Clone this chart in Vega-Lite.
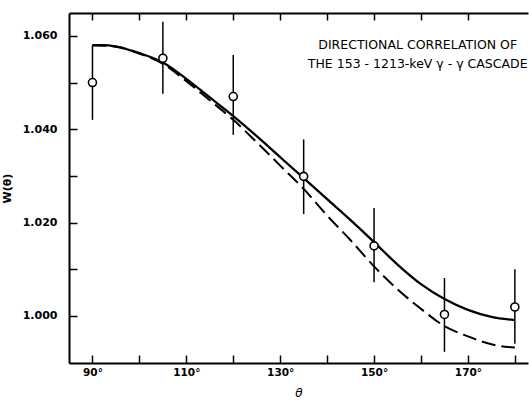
{
  "$schema": "https://vega.github.io/schema/vega-lite/v6.json",
  "width": 459,
  "height": 350,
  "autosize": {"type": "none"},
  "padding": {"left": 69, "top": 13, "right": 1, "bottom": 38},
  "background": "white",
  "config": {
    "view": {"stroke": null},
    "font": "DejaVu Sans",
    "axis": {"domainColor": "black", "tickColor": "black", "labelColor": "black", "titleColor": "black", "grid": false}
  },
  "datasets": {
    "curves": [
      {"theta": 90, "w": 1.0580, "fit": "solid"},
      {"theta": 92.5, "w": 1.0580, "fit": "solid"},
      {"theta": 95, "w": 1.0577, "fit": "solid"},
      {"theta": 100, "w": 1.0563, "fit": "solid"},
      {"theta": 105, "w": 1.0543, "fit": "solid"},
      {"theta": 110, "w": 1.0508, "fit": "solid"},
      {"theta": 115, "w": 1.0468, "fit": "solid"},
      {"theta": 120, "w": 1.0428, "fit": "solid"},
      {"theta": 125, "w": 1.0385, "fit": "solid"},
      {"theta": 130, "w": 1.0340, "fit": "solid"},
      {"theta": 135, "w": 1.0295, "fit": "solid"},
      {"theta": 140, "w": 1.0250, "fit": "solid"},
      {"theta": 145, "w": 1.0205, "fit": "solid"},
      {"theta": 150, "w": 1.0158, "fit": "solid"},
      {"theta": 155, "w": 1.0110, "fit": "solid"},
      {"theta": 160, "w": 1.0068, "fit": "solid"},
      {"theta": 165, "w": 1.0036, "fit": "solid"},
      {"theta": 170, "w": 1.0013, "fit": "solid"},
      {"theta": 175, "w": 0.9998, "fit": "solid"},
      {"theta": 180, "w": 0.9991, "fit": "solid"},
      {"theta": 90, "w": 1.0580, "fit": "dashed"},
      {"theta": 95, "w": 1.0577, "fit": "dashed"},
      {"theta": 100, "w": 1.0562, "fit": "dashed"},
      {"theta": 105, "w": 1.0540, "fit": "dashed"},
      {"theta": 110, "w": 1.0503, "fit": "dashed"},
      {"theta": 115, "w": 1.0462, "fit": "dashed"},
      {"theta": 120, "w": 1.0420, "fit": "dashed"},
      {"theta": 125, "w": 1.0372, "fit": "dashed"},
      {"theta": 130, "w": 1.0322, "fit": "dashed"},
      {"theta": 135, "w": 1.0272, "fit": "dashed"},
      {"theta": 140, "w": 1.0215, "fit": "dashed"},
      {"theta": 145, "w": 1.0162, "fit": "dashed"},
      {"theta": 150, "w": 1.0106, "fit": "dashed"},
      {"theta": 155, "w": 1.0057, "fit": "dashed"},
      {"theta": 160, "w": 1.0015, "fit": "dashed"},
      {"theta": 165, "w": 0.9978, "fit": "dashed"},
      {"theta": 170, "w": 0.9956, "fit": "dashed"},
      {"theta": 175, "w": 0.9939, "fit": "dashed"},
      {"theta": 180, "w": 0.9932, "fit": "dashed"}
    ],
    "points": [
      {"theta": 90, "w": 1.0500, "lo": 1.0420, "hi": 1.0580},
      {"theta": 105, "w": 1.0552, "lo": 1.0476, "hi": 1.0630},
      {"theta": 120, "w": 1.0470, "lo": 1.0388, "hi": 1.0559},
      {"theta": 135, "w": 1.0299, "lo": 1.0218, "hi": 1.0378},
      {"theta": 150, "w": 1.0150, "lo": 1.0072, "hi": 1.0231},
      {"theta": 165, "w": 1.0003, "lo": 0.9923, "hi": 1.0081},
      {"theta": 180, "w": 1.0019, "lo": 0.9940, "hi": 1.0100}
    ],
    "labels": [
      {"text": "DIRECTIONAL CORRELATION OF", "theta": 159.3, "w": 1.0581},
      {"text": "THE 153 - 1213-keV γ - γ CASCADE", "theta": 159.3, "w": 1.0540}
    ]
  },
  "resolve": {"axis": {"x": "independent", "y": "independent"}},
  "layer": [
    {
      "data": {"name": "curves"},
      "transform": [{"filter": "datum.fit == 'solid'"}],
      "mark": {"type": "line", "color": "black", "strokeWidth": 2.3, "strokeJoin": "round", "interpolate": "monotone"},
      "encoding": {
        "x": {"field": "theta", "type": "quantitative",
          "scale": {"domain": [85, 182.8], "nice": false, "zero": false},
          "axis": {"orient": "bottom", "title": "θ", "titleFontStyle": "italic", "titleFontWeight": "normal", "titleFontSize": 12, "titlePadding": 10,
            "values": [90, 100, 110, 120, 130, 140, 150, 160, 170, 180],
            "labelExpr": "datum.value % 20 == 10 ? datum.value + '°' : ''",
            "labelFont": "DejaVu Sans", "labelFontWeight": "bold", "labelFontSize": 10.5, "labelPadding": 12,
            "tickSize": -8, "tickWidth": 1.5, "domainWidth": 2}},
        "y": {"field": "w", "type": "quantitative",
          "scale": {"domain": [0.9899, 1.0649], "nice": false, "zero": false},
          "axis": {"orient": "left", "title": "W(θ)", "titleFontWeight": "bold", "titleFontSize": 11, "titlePadding": 10,
            "values": [1.0, 1.01, 1.02, 1.03, 1.04, 1.05, 1.06],
            "labelExpr": "round(datum.value * 1000) % 20 == 0 ? format(datum.value, '.3f') : ''",
            "labelFontWeight": "bold", "labelFontSize": 11, "labelPadding": 20,
            "tickSize": -8, "tickWidth": 1.5, "domainWidth": 2}}
      }
    },
    {
      "data": {"name": "curves"},
      "transform": [{"filter": "datum.fit == 'dashed'"}],
      "mark": {"type": "line", "color": "black", "strokeWidth": 2, "strokeDash": [14, 6], "interpolate": "monotone"},
      "encoding": {
        "x": {"field": "theta", "type": "quantitative",
          "scale": {"domain": [85, 182.8], "nice": false, "zero": false},
          "axis": {"orient": "top", "title": null, "labels": false,
            "values": [90, 100, 110, 120, 130, 140, 150, 160, 170],
            "tickSize": -7, "tickWidth": 1.5, "domainWidth": 2}},
        "y": {"field": "w", "type": "quantitative",
          "scale": {"domain": [0.9899, 1.0649], "nice": false, "zero": false}, "axis": null}
      }
    },
    {
      "data": {"name": "points"},
      "mark": {"type": "rule", "color": "black", "strokeWidth": 1.5},
      "encoding": {
        "x": {"field": "theta", "type": "quantitative", "scale": {"domain": [85, 182.8], "nice": false, "zero": false}, "axis": null},
        "y": {"field": "lo", "type": "quantitative", "scale": {"domain": [0.9899, 1.0649], "nice": false, "zero": false}, "axis": null},
        "y2": {"field": "hi"}
      }
    },
    {
      "data": {"name": "points"},
      "mark": {"type": "point", "shape": "circle", "size": 64, "filled": true, "fill": "white", "stroke": "black", "strokeWidth": 1.6, "opacity": 1},
      "encoding": {
        "x": {"field": "theta", "type": "quantitative", "scale": {"domain": [85, 182.8], "nice": false, "zero": false}, "axis": null},
        "y": {"field": "w", "type": "quantitative", "scale": {"domain": [0.9899, 1.0649], "nice": false, "zero": false}, "axis": null}
      }
    },
    {
      "data": {"name": "labels"},
      "mark": {"type": "text", "font": "DejaVu Sans", "fontSize": 12.5, "align": "center", "baseline": "middle", "color": "black"},
      "encoding": {
        "x": {"field": "theta", "type": "quantitative", "scale": {"domain": [85, 182.8], "nice": false, "zero": false}, "axis": null},
        "y": {"field": "w", "type": "quantitative", "scale": {"domain": [0.9899, 1.0649], "nice": false, "zero": false}, "axis": null},
        "text": {"field": "text"}
      }
    }
  ]
}
